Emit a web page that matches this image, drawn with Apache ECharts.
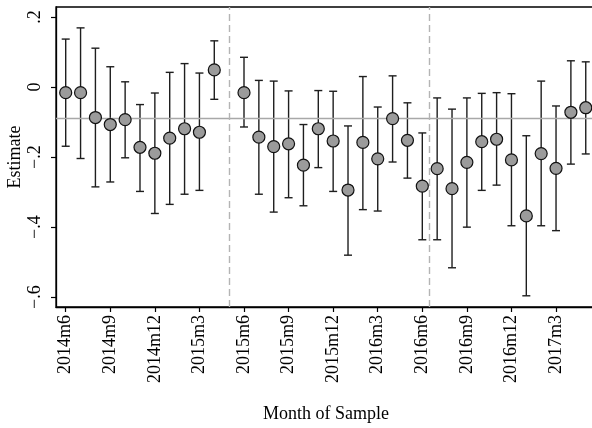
<!DOCTYPE html>
<html>
<head>
<meta charset="utf-8">
<script src="https://cdn.jsdelivr.net/npm/echarts@6/dist/echarts.min.js"></script>
<style>
html,body{margin:0;padding:0;background:#fff;}
#chart{width:592px;height:428px;}
</style>
</head>
<body>
<div id="chart"></div>
<script>
// ---- data ----
const months = ['2014m6','2014m7','2014m8','2014m9','2014m10','2014m11','2014m12','2015m1','2015m2','2015m3','2015m4',
  '2015m6','2015m7','2015m8','2015m9','2015m10','2015m11','2015m12',
  '2016m1','2016m2','2016m3','2016m4','2016m5','2016m6',
  '2016m7','2016m8','2016m9','2016m10','2016m11','2016m12',
  '2017m1','2017m2','2017m3','2017m4','2017m5'];
const estimates = [-0.016,-0.016,-0.087,-0.107,-0.093,-0.172,-0.189,-0.146,-0.119,-0.129,0.049,
  -0.016,-0.143,-0.170,-0.162,-0.223,-0.119,-0.154,
  -0.294,-0.158,-0.205,-0.090,-0.152,-0.283,
  -0.233,-0.290,-0.215,-0.156,-0.149,-0.208,
  -0.368,-0.190,-0.232,-0.072,-0.059];
const ciUpper = [0.137,0.169,0.111,0.058,0.015,-0.050,-0.017,0.042,0.067,0.040,0.132,
  0.085,0.019,0.017,-0.011,-0.107,-0.010,-0.012,
  -0.111,0.030,-0.057,0.032,-0.045,-0.131,
  -0.031,-0.063,-0.031,-0.018,-0.016,-0.019,
  -0.139,0.017,-0.054,0.075,0.072];
const ciLower = [-0.169,-0.204,-0.285,-0.271,-0.202,-0.298,-0.361,-0.335,-0.306,-0.295,-0.035,
  -0.114,-0.306,-0.357,-0.316,-0.339,-0.230,-0.298,
  -0.480,-0.350,-0.354,-0.214,-0.260,-0.436,
  -0.436,-0.516,-0.400,-0.295,-0.280,-0.396,
  -0.596,-0.396,-0.410,-0.220,-0.191];
const xTickLabels = ['2014m6','2014m9','2014m12','2015m3','2015m6','2015m9','2015m12','2016m3','2016m6','2016m9','2016m12','2017m3'];
const yTickValues = [0.2, 0, -0.2, -0.4, -0.6];
const meanLine = -0.092;
const breakLines = ['2015m5', '2016m6.5'];

// ---- helpers ----
const base = 2014*12 + 6;
function monthIdx(s){ const m = s.match(/^(\d{4})m([\d.]+)$/); return (+m[1])*12 + (+m[2]) - base; }
const xTickValues = xTickLabels.map(monthIdx);
const labelOf = {}; xTickLabels.forEach(l => labelOf[monthIdx(l)] = l);
function fmtY(v){
  if (Math.abs(v) < 1e-9) return '0';
  const s = Math.abs(v).toFixed(1).replace(/^0/, '');
  return (v < 0 ? '\u2212' : '') + s;
}
const pts = months.map((m,i)=>[monthIdx(m), estimates[i]]);
const bars = months.map((m,i)=>[monthIdx(m), ciLower[i], ciUpper[i]]);

const font = 'Liberation Serif';
const chart = echarts.init(document.getElementById('chart'), null, {renderer:'canvas'});
chart.setOption({
  animation:false,
  backgroundColor:'#fff',
  grid:{left:56, right:-4, top:7, bottom:121, show:true, borderColor:'#000', borderWidth:1.3,
    backgroundColor:'transparent', containLabel:false, outerBoundsMode:'none'},
  xAxis:{
    type:'value', min:-0.653, max:35.69,
    splitLine:{show:false},
    axisLine:{show:true, onZero:false, lineStyle:{color:'#000', width:1.3}},
    axisTick:{show:true, length:5, lineStyle:{color:'#000', width:1.2}, customValues:xTickValues},
    axisLabel:{show:true, rotate:90, margin:8, fontFamily:font, fontSize:18, color:'#000',
      customValues:xTickValues, formatter:v=>labelOf[Math.round(v)] || ''},
    name:'Month of Sample', nameLocation:'middle', nameGap:98, nameMoveOverlap:false,
    nameTextStyle:{fontFamily:font, fontSize:18, color:'#000'}
  },
  yAxis:{
    type:'value', min:-0.628, max:0.2286,
    splitLine:{show:false},
    axisLine:{show:true, onZero:false, lineStyle:{color:'#000', width:1.3}},
    axisTick:{show:true, length:5, lineStyle:{color:'#000', width:1.2}, customValues:yTickValues},
    axisLabel:{show:true, rotate:90, margin:12, fontFamily:font, fontSize:18, color:'#000',
      customValues:yTickValues, formatter:fmtY},
    name:'Estimate', nameLocation:'middle', nameGap:32, nameMoveOverlap:false,
    nameTextStyle:{fontFamily:font, fontSize:18, color:'#000'}
  },
  series:[
    {
      type:'line', data:[], silent:true, z:1,
      markLine:{
        silent:true, symbol:'none', animation:false,
        label:{show:false},
        data:[
          {yAxis:meanLine, lineStyle:{color:'#a8a8a8', width:1.3, type:'solid'}},
          ...breakLines.map(b=>({xAxis:monthIdx(b), lineStyle:{color:'#b4b4b4', width:1.4, type:[7,4]}}))
        ]
      }
    },
    {
      type:'custom', z:3, silent:true,
      data:bars,
      renderItem:function(params, api){
        const x = api.value(0), lo = api.value(1), hi = api.value(2);
        const p1 = api.coord([x, hi]), p2 = api.coord([x, lo]);
        const w = 4;
        const st = {stroke:'#1e1e1e', lineWidth:1.4};
        return {type:'group', children:[
          {type:'line', shape:{x1:p1[0], y1:p1[1], x2:p2[0], y2:p2[1]}, style:st},
          {type:'line', shape:{x1:p1[0]-w, y1:p1[1], x2:p1[0]+w, y2:p1[1]}, style:st},
          {type:'line', shape:{x1:p2[0]-w, y1:p2[1], x2:p2[0]+w, y2:p2[1]}, style:st}
        ]};
      }
    },
    {
      type:'scatter', z:5, silent:true,
      data:pts, symbol:'circle', symbolSize:12,
      itemStyle:{color:'#9b9b9b', borderColor:'#111', borderWidth:1.2, opacity:1}
    }
  ]
});
</script>
</body>
</html>
